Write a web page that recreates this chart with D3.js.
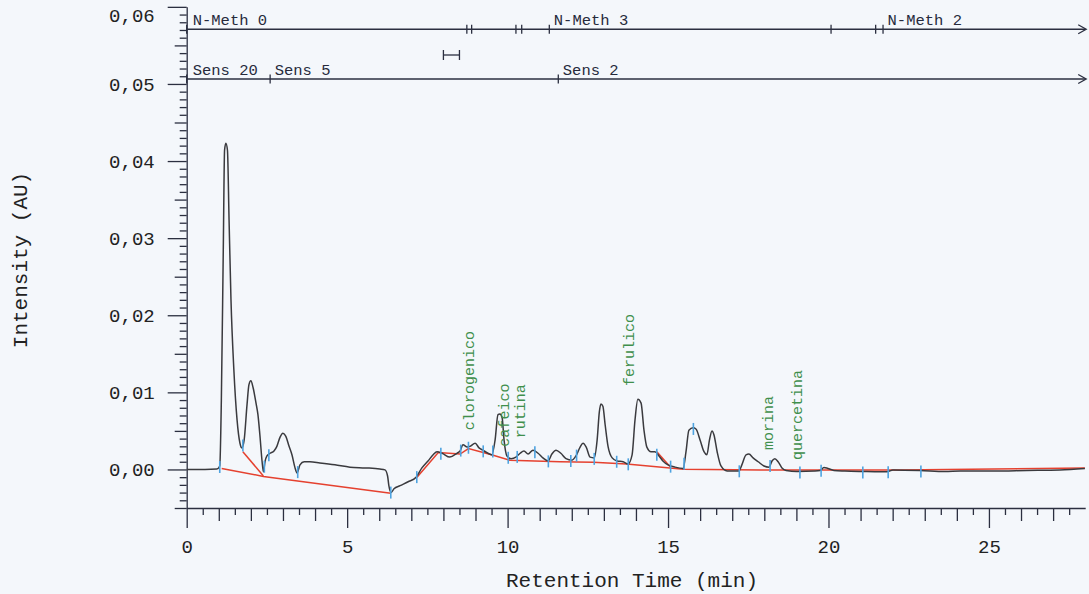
<!DOCTYPE html>
<html><head><meta charset="utf-8">
<script src="https://cdn.jsdelivr.net/npm/d3@7"></script>
<style>html,body{margin:0;padding:0;background:#f4f7fb;} svg{display:block}</style>
</head><body><svg id="c" width="1089" height="594"></svg>
<script>
// ---- data (time in min, intensity in AU) ----
const trace = [
[0,0],[0.57,0],[0.94,0.00006],[1.03,0.00045],[1.08,0.0090],[1.14,0.0285],[1.18,0.0414],[1.22,0.0423],
[1.27,0.0414],[1.32,0.0324],[1.38,0.0220],[1.47,0.0129],[1.57,0.0064],[1.66,0.0034],[1.72,0.0028],
[1.79,0.0038],[1.88,0.0084],[1.94,0.0110],[2.00,0.0115],[2.07,0.0106],[2.16,0.0086],[2.22,0.0071],
[2.28,0.0045],[2.35,0.0010],[2.39,-0.0003],[2.44,0.0010],[2.50,0.00175],[2.60,0.0021],[2.72,0.0024],
[2.81,0.0030],[2.91,0.0042],[3.00,0.0047],[3.09,0.0043],[3.19,0.0030],[3.28,0.0019],[3.37,0.0003],
[3.44,-0.00045],[3.53,0.0006],[3.66,0.0010],[3.84,0.0010],[4.15,0.00085],[4.62,0.0006],[5.09,0.0003],
[5.56,0.0002],[6.02,0.00006],[6.18,-0.00006],[6.26,-0.00085],[6.30,-0.0021],[6.37,-0.0030],[6.46,-0.0025],
[6.65,-0.0021],[6.90,-0.0016],[7.15,-0.0010],[7.33,0.0002],[7.52,0.0011],[7.68,0.0019],[7.80,0.0023],
[7.96,0.0021],[8.20,0.0016],[8.42,0.0021],[8.52,0.0024],[8.61,0.0032],[8.74,0.0029],[8.83,0.0030],
[8.99,0.0034],[9.11,0.0028],[9.23,0.0025],[9.39,0.0021],[9.51,0.0019],[9.61,0.0038],[9.70,0.0071],
[9.76,0.0072],[9.83,0.0067],[9.89,0.0038],[9.98,0.00175],[10.11,0.0014],[10.26,0.0016],[10.39,0.0021],
[10.51,0.0024],[10.64,0.0020],[10.79,0.0025],[10.95,0.0021],[11.10,0.0015],[11.26,0.0011],[11.38,0.0020],
[11.51,0.0025],[11.66,0.0021],[11.82,0.0014],[12.00,0.0012],[12.13,0.00175],[12.26,0.0029],[12.35,0.0034],
[12.45,0.0029],[12.57,0.0016],[12.70,0.0015],[12.79,0.0038],[12.86,0.0075],[12.91,0.0085],[12.97,0.0082],
[13.04,0.0058],[13.13,0.0030],[13.26,0.0015],[13.41,0.0011],[13.60,0.0010],[13.75,0.0007],[13.88,0.0019],
[13.97,0.0064],[14.06,0.0091],[14.16,0.0086],[14.25,0.0051],[14.34,0.0029],[14.47,0.0023],[14.59,0.0023],
[14.72,0.00175],[14.84,0.0011],[15.00,0.0006],[15.22,0.0003],[15.47,0.00013],[15.56,0.0023],[15.65,0.0051],
[15.78,0.0054],[15.87,0.00525],[16.00,0.0038],[16.12,0.0023],[16.21,0.0019],[16.29,0.0038],[16.37,0.0050],
[16.43,0.0045],[16.53,0.0023],[16.65,0.00045],[16.84,-0.0002],[17.21,-0.0002],[17.30,0.0006],[17.43,0.0019],
[17.52,0.0020],[17.65,0.0015],[17.81,0.0010],[17.99,0.00045],[18.15,0.0003],[18.24,0.0011],[18.33,0.0014],
[18.43,0.0010],[18.55,0.0002],[18.68,-0.00013],[19.02,-0.00026],[19.58,-0.0002],[19.74,-0.00013],
[19.86,0.00026],[19.98,0.00013],[20.17,-0.00013],[20.51,-0.0002],[21.07,-0.00026],[21.61,-0.0003],
[21.82,-0.0003],[22.01,-0.00006],[22.85,-0.00013],[23.63,-0.00026],[24.10,-0.0002],[25.13,-0.0002],
[26.18,-0.00013],[27.21,-0.00006],[27.99,0.00013]
];
const baselines = [
  [[1.09,0.00013],[2.39,-0.0009],[6.36,-0.0031]],
  [[1.75,0.0023],[2.39,-0.00085]],
  [[7.17,-0.00105],[7.84,0.0022],[8.52,0.0020],[8.78,0.0027],[9.50,0.0019],[10.07,0.0012],[11.63,0.0010],
   [12.67,0.00093],[13.71,0.0007],[15.48,0.00003],[17.87,-0.00006],[22.23,-0.00006],[27.99,0.0002]],
  [[14.65,0.0023],[15.08,0.0003]]
];
const peakMarkers = [1.03,1.75,2.42,2.56,3.46,6.36,7.17,7.92,8.54,8.78,9.24,9.54,10.02,10.30,10.85,11.27,
  11.97,12.15,12.70,13.40,13.76,14.65,15.08,15.50,15.79,17.22,18.18,19.11,19.77,21.07,21.86,22.88];
const peakLabels = ["clorogenico","cafeico","rutina","ferulico","morina","quercetina"];
const peakLabelTimes = [8.78, 9.89, 10.39, 13.79, 18.12, 19.0];
const peakLabelBase = [0.0051, 0.00296, 0.00405, 0.01083, 0.00253, 0.00123];
const nmethEvents = [0, 8.73, 8.88, 10.26, 10.44, 11.30, 20.08, 21.47, 21.70];
const nmethLabels = ["N-Meth 0", "", "", "", "", "N-Meth 3", "", "", "N-Meth 2"];
const sensEvents = [0, 2.60, 11.58];
const sensLabels = ["Sens 20", "Sens 5", "Sens 2"];
const intervalMark = [8.0, 8.5];
const xMajorTicks = [0, 5, 10, 15, 20, 25];
const yMajorTicks = [0, 0.01, 0.02, 0.03, 0.04, 0.05, 0.06];
const xTitle = "Retention Time (min)";
const yTitle = "Intensity (AU)";

// ---- drawing ----
const svg = d3.select("#c");
const FONT = "'Liberation Mono','DejaVu Sans Mono',monospace";
const AX = "#2b2f40";
const x = d3.scaleLinear().domain([0, 28]).range([186.7, 1085.2]);
const y = d3.scaleLinear().domain([-0.005, 0.06]).range([508, 6.85]);
const x0 = x(0), yb = y(-0.005);

// y axis: minor / medium / major
const yMinor = d3.range(-5, 61).filter(i => i % 5 !== 0).map(i => i / 1000);
const yMed = d3.range(-5, 61, 5).filter(i => i % 10 !== 0).map(i => i / 1000);
function styleAxis(g){ g.selectAll("line,path").attr("stroke", AX).attr("stroke-width", 1.3);
  g.selectAll("text").attr("fill", "#222").style("font-family", FONT).style("font-size", "19px"); }
svg.append("g").attr("transform", `translate(${x0},0)`)
  .call(d3.axisLeft(y).tickValues(yMinor).tickSize(7).tickFormat(""))
  .call(g => g.select(".domain").remove()).call(styleAxis);
svg.append("g").attr("transform", `translate(${x0},0)`)
  .call(d3.axisLeft(y).tickValues(yMed).tickSize(12).tickFormat(""))
  .call(g => g.select(".domain").remove()).call(styleAxis);
svg.append("g").attr("transform", `translate(${x0},0)`)
  .call(d3.axisLeft(y).tickValues(yMajorTicks).tickSize(19).tickPadding(13)
    .tickFormat(d => d3.format(".2f")(d).replace(".", ",")).tickSizeOuter(0))
  .call(styleAxis)
  .call(g => g.selectAll(".tick").filter(d => d === 0.06).select("text").attr("dy", "0.75em"));

// x axis
const xMinor = d3.range(1, 56, 2).map(i => i / 2);
const xMed = d3.range(1, 28).filter(i => i % 5 !== 0);
svg.append("g").attr("transform", `translate(0,${yb})`)
  .call(d3.axisBottom(x).tickValues(xMinor).tickSize(7).tickFormat(""))
  .call(g => g.select(".domain").remove()).call(styleAxis);
svg.append("g").attr("transform", `translate(0,${yb})`)
  .call(d3.axisBottom(x).tickValues(xMed).tickSize(13).tickFormat(""))
  .call(g => g.select(".domain").remove()).call(styleAxis);
svg.append("g").attr("transform", `translate(0,${yb})`)
  .call(d3.axisBottom(x).tickValues(xMajorTicks).tickSize(20).tickPadding(12).tickSizeOuter(0))
  .call(styleAxis);

// axis titles
svg.append("text").attr("x", 632).attr("y", 587).attr("text-anchor", "middle")
  .style("font-family", FONT).style("font-size", "21px").attr("fill", "#222").text(xTitle);
svg.append("text").attr("transform", "translate(27,260) rotate(-90)").attr("text-anchor", "middle")
  .style("font-family", FONT).style("font-size", "21px").attr("fill", "#222").text(yTitle);

// event lines
function eventLine(ev, labels, ly){
  const g = svg.append("g");
  g.append("line").attr("x1", x0).attr("x2", x(28)).attr("y1", ly).attr("y2", ly)
    .attr("stroke", AX).attr("stroke-width", 1.4);
  g.append("path").attr("d", `M${x(28)-7},${ly-4.5}L${x(28)+1},${ly}L${x(28)-7},${ly+4.5}`)
    .attr("fill", "none").attr("stroke", AX).attr("stroke-width", 1.3);
  ev.forEach((t, i) => {
    g.append("line").attr("x1", x(t)).attr("x2", x(t)).attr("y1", ly - 4.5).attr("y2", ly + 4.5)
      .attr("stroke", AX).attr("stroke-width", 1.3);
    if (labels[i]) g.append("text").attr("x", x(t) + (t === 0 ? 6 : 4.5)).attr("y", ly - 4.5)
      .style("font-family", FONT).style("font-size", "15.5px").attr("fill", "#262a3c").text(labels[i]);
  });
}
eventLine(nmethEvents, nmethLabels, 29.3);
eventLine(sensEvents, sensLabels, 79);
// interval marker
const im = svg.append("g").attr("stroke", AX).attr("stroke-width", 1.3);
im.append("line").attr("x1", x(intervalMark[0])).attr("x2", x(intervalMark[1])).attr("y1", 55).attr("y2", 55);
intervalMark.forEach(t => im.append("line").attr("x1", x(t)).attr("x2", x(t)).attr("y1", 50).attr("y2", 60));

// baselines (red)
const lineGen = d3.line().x(d => x(d[0])).y(d => y(d[1]));
baselines.forEach(b => svg.append("path").attr("d", lineGen(b)).attr("fill", "none")
  .attr("stroke", "#e5412f").attr("stroke-width", 1.5));

// trace
svg.append("path").attr("d", d3.line().x(d => x(d[0])).y(d => y(d[1])).curve(d3.curveMonotoneX)(trace))
  .attr("fill", "none").attr("stroke", "#3a3a3e").attr("stroke-width", 1.5).attr("stroke-linejoin", "round");

// peak markers (blue)
const bis = d3.bisector(d => d[0]).left;
function valAt(t){ const i = Math.max(1, Math.min(trace.length - 1, bis(trace, t)));
  const a = trace[i-1], b = trace[i]; const f = (t - a[0]) / (b[0] - a[0]); return a[1] + f * (b[1] - a[1]); }
peakMarkers.forEach(t => {
  const py = y(valAt(t));
  svg.append("line").attr("x1", x(t)).attr("x2", x(t)).attr("y1", py - 5).attr("y2", py + 7)
    .attr("stroke", "#4ea3e0").attr("stroke-width", 1.6);
});

// peak labels (green, vertical)
peakLabels.forEach((name, i) => {
  svg.append("text")
    .attr("transform", `translate(${x(peakLabelTimes[i])},${y(peakLabelBase[i])}) rotate(-90)`)
    .attr("dy", "0.35em").style("font-family", FONT).style("font-size", "15px")
    .attr("fill", "#3f8f4c").text(name);
});
</script></body></html>
